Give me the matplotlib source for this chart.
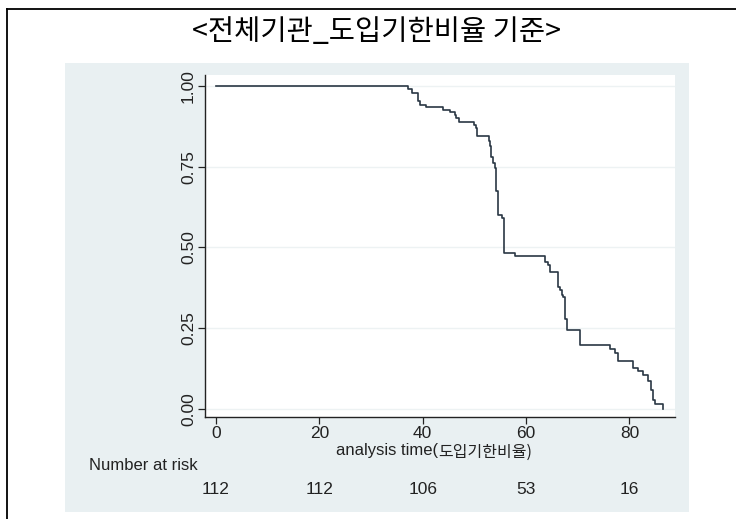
import matplotlib
matplotlib.use("Agg")
import matplotlib.pyplot as plt
from matplotlib.patches import Rectangle
from matplotlib.lines import Line2D

# Kaplan-Meier steps (time, survival after step)
step_times = [0, 37.1, 38.0, 39.0, 39.5, 40.6, 44.0, 45.3, 46.2, 46.5, 47.0,
              50.0, 50.4, 50.6, 52.9, 53.0, 53.2, 53.6, 53.9, 54.2, 54.5,
              55.3, 55.7, 57.8, 63.6, 64.3, 64.6, 66.2, 66.5, 66.9, 67.2,
              67.6, 68.0, 70.5, 76.2, 77.2, 77.8, 80.6, 81.7, 82.6, 83.6,
              84.1, 84.6, 84.9, 86.5]
step_surv = [1.0, 0.991, 0.978, 0.955, 0.941, 0.935, 0.927, 0.918, 0.909, 0.900, 0.887,
             0.880, 0.871, 0.846, 0.830, 0.815, 0.779, 0.760, 0.745, 0.676, 0.599,
             0.590, 0.482, 0.473, 0.455, 0.446, 0.424, 0.378, 0.368, 0.353, 0.347,
             0.280, 0.244, 0.198, 0.186, 0.172, 0.148, 0.126, 0.116, 0.105, 0.085,
             0.059, 0.028, 0.015, 0.0]

x_ticks = [0, 20, 40, 60, 80]
y_ticks = [0.0, 0.25, 0.50, 0.75, 1.0]
y_tick_labels = ["0.00", "0.25", "0.50", "0.75", "1.00"]
at_risk = [112, 112, 106, 53, 16]

title = "<전체기관_도입기한비율 기준>"
narrow = ["Liberation Sans Narrow", "DejaVu Sans Condensed", "Liberation Sans", "DejaVu Sans"]
kor = ["Noto Sans CJK KR", "DejaVu Sans"]

W, H = 736, 519
fig = plt.figure(figsize=(W / 100, H / 100), dpi=100)
fig.patch.set_facecolor("white")

def fx(px):
    return px / W

def fy(py):
    return 1 - py / H

# outer frame (left and top edges visible)
fig.add_artist(Line2D([fx(7), fx(7)], [fy(9), 0], color="black", lw=1.3))
fig.add_artist(Line2D([fx(7), 1], [fy(9), fy(9)], color="black", lw=1.3))

# grey graph region
fig.add_artist(Rectangle((fx(65), fy(512)), fx(689) - fx(65), fy(63) - fy(512),
                         facecolor="#e9f0f2", edgecolor="none", zorder=0))

fig.text(fx(377), fy(32), title, ha="center", va="center", fontsize=20.5, family=kor)

ax = fig.add_axes([fx(205), fy(417), fx(675) - fx(205), fy(75) - fy(417)])
ax.set_facecolor("white")
ax.step(step_times, step_surv, where="post", color="#2a3744", lw=1.2)

ax.set_xlim(-2.1, 88.8)
ax.set_ylim(-0.025, 1.034)
ax.set_xticks(x_ticks)
ax.set_xticklabels([str(v) for v in x_ticks], family=narrow, fontsize=12.5)
ax.set_yticks(y_ticks)
ax.set_yticklabels(y_tick_labels, family=narrow, fontsize=12.5, rotation=90, va="center")
for yv in y_ticks:
    ax.axhline(yv, color="#edf2f3", lw=1.0, zorder=0)

for s in ["top", "right"]:
    ax.spines[s].set_visible(False)
for s in ["left", "bottom"]:
    ax.spines[s].set_color("#222222")
    ax.spines[s].set_linewidth(1.0)
ax.tick_params(axis="both", direction="out", length=5, width=0.9, color="#222222",
               labelcolor="#222222", pad=1.5)

# x axis title: latin part then smaller Korean part
fig.text(fx(438), fy(450), "analysis time(", ha="right", va="center",
         fontsize=12, family=narrow, color="#222222")
fig.text(fx(438), fy(452), "도입기한비율)", ha="left", va="center",
         fontsize=11.5, family=kor, color="#222222")

fig.text(fx(89), fy(466), "Number at risk", ha="left", va="center",
         fontsize=12, family=narrow, color="#222222")
for xv, n in zip(x_ticks, at_risk):
    xp = ax.transData.transform((xv, 0))[0] / fig.bbox.width
    fig.text(xp, fy(490), str(n), ha="center", va="center",
             fontsize=12.5, family=narrow, color="#222222")

fig.savefig("out.png", dpi=100)
